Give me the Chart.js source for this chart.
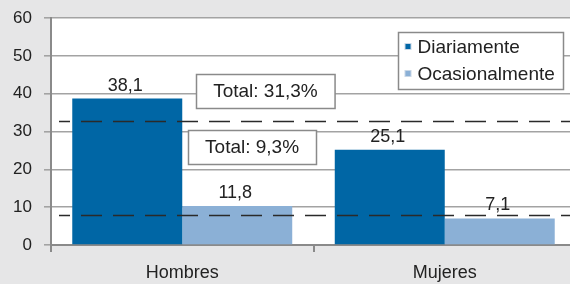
<!DOCTYPE html>
<html>
<head>
<meta charset="utf-8">
<script src="https://cdn.jsdelivr.net/npm/chart.js@4/dist/chart.umd.min.js"></script>
<style>
  html, body { margin:0; padding:0; background:#e6e6e7; overflow:hidden; }
  #wrap { width:578px; height:284px; }
</style>
</head>
<body>
<div id="wrap"><canvas id="c" width="578" height="284"></canvas></div>
<script>
// ---- data ----
const categories = ['Hombres', 'Mujeres'];
const seriesNames = ['Diariamente', 'Ocasionalmente'];
const diariamente = [38.7, 25.2];      // bar heights as drawn
const ocasionalmente = [10.3, 7.0];
const diariamenteLabels = ['38,1', '25,1'];
const ocasionalmenteLabels = ['11,8', '7,1'];
const totalLines = [32.7, 7.9];        // dashed reference lines (as drawn)
const totalTexts = ['Total: 31,3%', 'Total: 9,3%'];
const yTicks = [0, 10, 20, 30, 40, 50, 60];

// ---- styles ----
const FONT = '"Liberation Sans", Arial, sans-serif';
const DARK = '#0066a5';
const LIGHT = '#8bb0d6';
const TEXT = '#222222';
const labelArrays = [diariamenteLabels, ocasionalmenteLabels];
// placement of the total boxes (category index, y value)
const boxPlacement = [{x: 0.317, y: 40.8}, {x: 0.266, y: 26.0}];

const overlay = {
  id: 'overlay',
  beforeDraw(chart) {
    const {ctx, chartArea: a} = chart;
    ctx.save();
    ctx.fillStyle = '#ffffff';
    ctx.fillRect(a.left, a.top, a.right - a.left, a.bottom - a.top);
    ctx.restore();
  },
  afterDatasetsDraw(chart) {
    const {ctx, chartArea: a, scales} = chart;
    const y = scales.y, x = scales.x;
    ctx.save();
    // value labels
    ctx.font = '18px ' + FONT;
    ctx.fillStyle = TEXT;
    ctx.textAlign = 'center';
    ctx.textBaseline = 'middle';
    chart.data.datasets.forEach((ds, di) => {
      chart.getDatasetMeta(di).data.forEach((bar, i) => {
        ctx.fillText(labelArrays[di][i], bar.x - 2, bar.y - 13);
      });
    });
    // dashed total lines
    ctx.strokeStyle = '#2a2a2a';
    ctx.lineWidth = 1.3;
    ctx.setLineDash([21, 11]);
    ctx.lineDashOffset = 10;
    totalLines.forEach(v => {
      const py = Math.round(y.getPixelForValue(v)) + 0.5;
      ctx.beginPath();
      ctx.moveTo(a.left + 8, py);
      ctx.lineTo(a.right, py);
      ctx.stroke();
    });
    ctx.setLineDash([]);
    // total boxes
    ctx.font = '19px ' + FONT;
    totalTexts.forEach((t, i) => {
      const p = boxPlacement[i];
      const cx = x.getPixelForValue(p.x), cy = y.getPixelForValue(p.y);
      const w = ctx.measureText(t).width + 34, h = 34;
      const bx = Math.round(cx - w / 2) + 0.5, by = Math.round(cy - h / 2) + 0.5;
      ctx.fillStyle = '#ffffff';
      ctx.fillRect(bx, by, w, h);
      ctx.strokeStyle = '#8a8a8a';
      ctx.lineWidth = 1.5;
      ctx.strokeRect(bx, by, w, h);
      ctx.fillStyle = TEXT;
      ctx.fillText(t, cx, cy + 1);
    });
    // legend
    const lw = 165, lh = 57;
    const lx = a.right - 13 - lw + 0.5, ly = a.top + 14 + 0.5;
    ctx.fillStyle = '#ffffff';
    ctx.fillRect(lx, ly, lw, lh);
    ctx.strokeStyle = '#8a8a8a';
    ctx.lineWidth = 1.5;
    ctx.strokeRect(lx, ly, lw, lh);
    ctx.textAlign = 'left';
    chart.data.datasets.forEach((ds, di) => {
      const cy = ly + 14 + di * 27;
      ctx.fillStyle = '#c9d7e6';
      ctx.fillRect(lx + 6, cy - 3.5, 7, 7);
      ctx.fillStyle = ds.backgroundColor;
      ctx.fillRect(lx + 7, cy - 2.5, 5, 5);
      ctx.fillStyle = TEXT;
      ctx.fillText(ds.label, lx + 19, cy + 1);
    });
    ctx.restore();
  }
};

new Chart(document.getElementById('c'), {
  type: 'bar',
  data: {
    labels: categories,
    datasets: [
      { label: seriesNames[0], data: diariamente, backgroundColor: DARK },
      { label: seriesNames[1], data: ocasionalmente, backgroundColor: LIGHT }
    ]
  },
  options: {
    responsive: false,
    animation: false,
    devicePixelRatio: 1,
    layout: { padding: { top: 18, right: 2, left: 0, bottom: 0 } },
    datasets: { bar: { categoryPercentage: 0.838, barPercentage: 1.0 } },
    plugins: { legend: { display: false }, tooltip: { enabled: false } },
    scales: {
      x: {
        offset: true,
        grid: { offset: true, drawOnChartArea: false, drawTicks: true, tickLength: 7, color: '#8a8a8a', lineWidth: 2 },
        border: { color: '#8a8a8a', width: 2 },
        ticks: { color: TEXT, font: { family: FONT, size: 18 }, padding: 10 },
        afterFit(s) { s.height = 39; s.paddingLeft = 0; s.paddingRight = 0; }
      },
      y: {
        min: 0, max: 60,
        afterBuildTicks(s) { s.ticks = yTicks.map(v => ({ value: v })); },
        grid: { color: '#a3a3a3', lineWidth: 1.6, tickLength: 7, drawTicks: true },
        border: { color: '#8a8a8a', width: 2 },
        ticks: { color: TEXT, font: { family: FONT, size: 17 }, padding: 12 },
        afterFit(s) { s.width = 51; s.paddingTop = 0; s.paddingBottom = 0; }
      }
    }
  },
  plugins: [overlay]
});
</script>
</body>
</html>
